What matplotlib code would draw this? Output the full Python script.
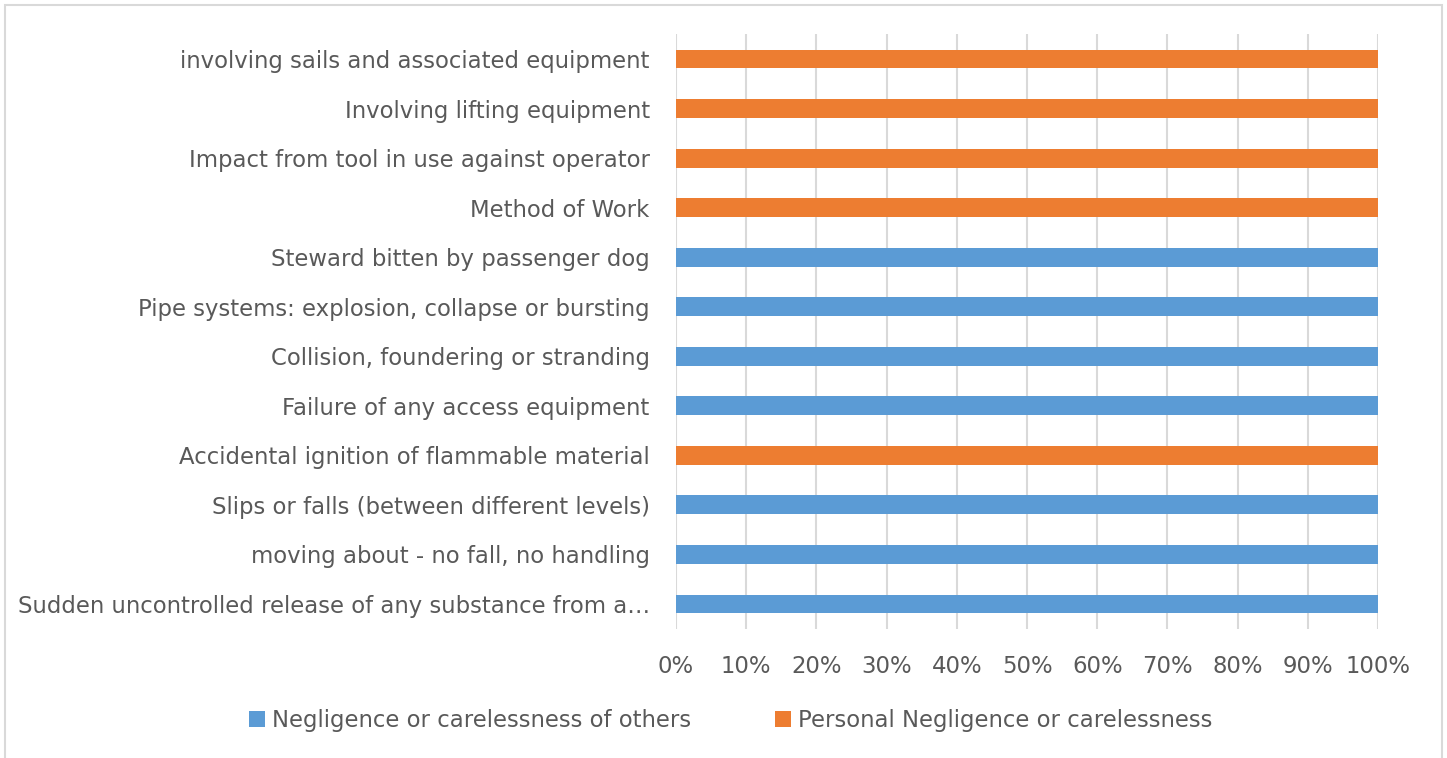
import numpy as np
import matplotlib.pyplot as plt
from matplotlib.patches import Rectangle
from matplotlib.ticker import PercentFormatter

# categories, bottom to top
categories = [
    "Sudden uncontrolled release of any substance from a\u2026",
    "moving about - no fall, no handling",
    "Slips or falls (between different levels)",
    "Accidental ignition of flammable material",
    "Failure of any access equipment",
    "Collision, foundering or stranding",
    "Pipe systems: explosion, collapse or bursting",
    "Steward bitten by passenger dog",
    "Method of Work",
    "Impact from tool in use against operator",
    "Involving lifting equipment",
    "involving sails and associated equipment",
]
# share of each cause (%)
others = [100, 100, 100, 0, 100, 100, 100, 100, 0, 0, 0, 0]
personal = [0, 0, 0, 100, 0, 0, 0, 0, 100, 100, 100, 100]

blue = "#5B9BD5"
orange = "#ED7D31"
text_col = "#595959"
grid_col = "#D9D9D9"

fig = plt.figure(figsize=(14.47, 7.58), dpi=100)
ax = fig.add_axes([0.4672, 0.1705, 0.4851, 0.7843])

y = np.arange(len(categories))
ax.barh(y, others, height=0.38, color=blue, label="Negligence or carelessness of others", zorder=3)
ax.barh(y, personal, left=others, height=0.38, color=orange,
        label="Personal Negligence or carelessness", zorder=3)

ax.set_xlim(0, 100)
ax.set_ylim(-0.5, len(categories) - 0.5)
ax.set_xticks(np.arange(0, 101, 10))
ax.xaxis.set_major_formatter(PercentFormatter(decimals=0))
ax.set_yticks(y)
ax.set_yticklabels(categories)
ax.grid(axis="x", color=grid_col, linewidth=1.5, zorder=0)
for s in ax.spines.values():
    s.set_visible(False)
ax.tick_params(axis="both", length=0, labelsize=16.4, labelcolor=text_col)
ax.tick_params(axis="y", pad=19)
ax.tick_params(axis="x", pad=19)

leg = fig.legend(loc="center", bbox_to_anchor=(0.505, 0.05), ncol=2, frameon=False,
                 fontsize=16.4, labelcolor=text_col, handlelength=0.7, handleheight=0.7,
                 handletextpad=0.3, columnspacing=3.7)

# light frame around the chart
fig.patches.append(Rectangle((5 / 1447, -0.01), 1437 / 1447, 1 - 5 / 758 + 0.01,
                             transform=fig.transFigure, fill=False,
                             edgecolor="#D9D9D9", linewidth=1.5))

fig.savefig("out.png", dpi=100)
